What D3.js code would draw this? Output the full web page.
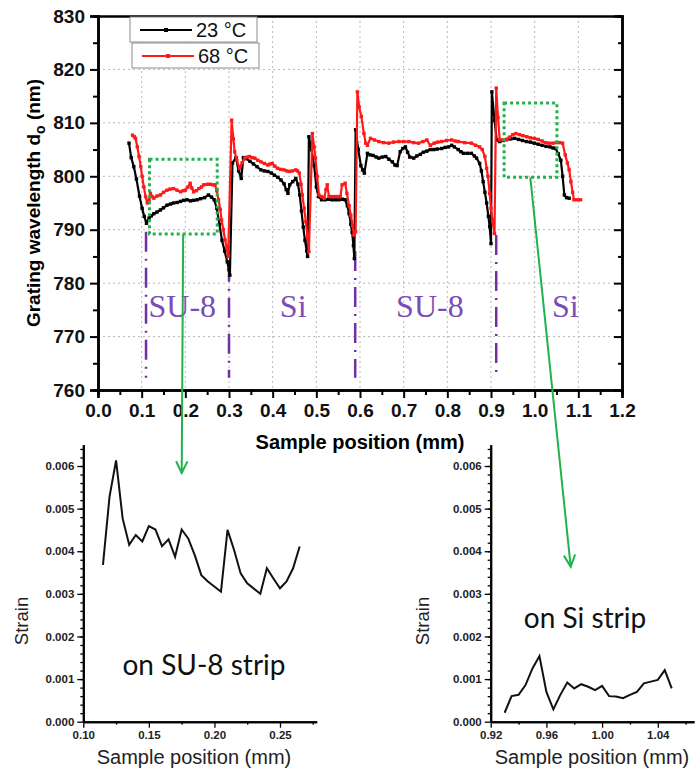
<!DOCTYPE html>
<html>
<head>
<meta charset="utf-8">
<script src="https://cdn.jsdelivr.net/npm/d3@7"></script>
<style>
  body { margin: 0; background: #fff; }
  svg { display: block; font-family: "Liberation Sans", Arial, sans-serif; }
</style>
</head>
<body>
<svg width="695" height="771"></svg>
<script>
// ---- data: main chart (grating wavelength vs position) ----
var x23 = [0.071,0.076,0.082,0.088,0.095,0.101,0.106,0.111,0.117,0.122,0.128,0.135,0.143,0.150,0.158,0.166,0.173,0.181,0.189,0.196,0.204,0.212,0.219,0.227,0.235,0.244,0.253,0.260,0.266,0.272,0.278,0.284,0.290,0.296,0.300,0.302,
  0.308,0.316,0.322,0.328,0.333,0.340,0.348,0.356,0.364,0.373,0.381,0.389,0.397,0.404,0.412,0.419,0.426,0.431,0.435,0.439,0.446,0.453,0.458,0.462,0.466,0.470,0.474,0.478,0.480,
  0.483,0.489,0.495,0.500,0.505,0.512,0.520,0.528,0.536,0.544,0.552,0.560,0.566,0.571,0.575,0.579,0.582,0.585,0.587,
  0.590,0.596,0.602,0.606,0.610,0.617,0.623,0.630,0.637,0.643,0.651,0.659,0.666,0.674,0.680,0.685,0.692,0.698,0.704,0.709,0.714,0.723,0.730,0.738,0.745,0.753,0.761,0.769,0.777,0.787,0.795,0.803,0.810,0.816,0.825,0.831,0.837,0.846,0.855,0.862,0.867,0.874,0.878,0.882,0.886,0.890,0.894,0.897,0.900,
  0.902,0.908,0.913,0.920,0.928,0.936,0.945,0.954,0.963,0.972,0.981,0.990,0.999,1.008,1.017,1.026,1.035,1.042,1.048,1.054,1.060,1.064,1.068,1.073,1.079];
var y23 = [806.2,803.5,801.8,799.5,796.3,794.0,792.5,791.2,792.2,792.6,793.0,793.3,793.7,794.1,794.6,794.8,795.0,795.1,795.3,795.5,795.6,795.4,795.5,795.6,795.8,796.0,796.5,796.1,795.6,794.0,791.0,788.0,786.0,784.0,782.5,781.5,
  802.5,803.5,801.0,799.6,803.5,803.3,802.8,802.3,801.8,801.2,801.0,800.9,800.6,800.2,799.8,799.3,798.6,797.5,796.8,798.4,799.0,799.6,798.5,796.5,793.5,790.5,788.0,786.0,785.0,
  807.4,805.0,802.0,798.0,796.2,795.6,795.6,795.7,795.6,795.6,795.6,795.7,795.6,794.5,793.0,791.0,789.5,787.0,784.6,
  808.7,805.0,802.0,801.2,800.6,804.3,804.0,803.9,803.6,803.4,803.6,803.7,803.2,802.7,802.1,802.0,804.6,805.2,805.5,804.5,803.6,803.4,803.8,804.1,804.5,804.7,805.0,805.0,805.1,805.2,805.4,805.5,805.8,805.5,805.0,804.6,804.3,804.3,804.3,803.8,803.4,802.4,801.0,799.0,797.0,795.0,792.5,790.6,787.4,
  815.8,810.5,806.8,806.5,806.7,806.9,807.0,807.1,806.9,806.7,806.5,806.4,806.2,806.0,805.8,805.6,805.5,805.3,805.2,804.2,803.0,800.0,796.5,796.0,795.9];

var x68 = [0.079,0.083,0.086,0.090,0.094,0.098,0.101,0.105,0.109,0.113,0.117,0.120,0.124,0.128,0.135,0.143,0.150,0.158,0.165,0.173,0.181,0.189,0.195,0.200,0.206,0.211,0.215,0.219,0.225,0.231,0.237,0.242,0.250,0.257,0.263,0.268,0.272,0.276,0.280,0.283,0.287,0.291,0.295,0.298,
  0.306,0.310,0.313,0.318,0.324,0.330,0.336,0.342,0.347,0.353,0.359,0.366,0.373,0.381,0.389,0.394,0.399,0.405,0.411,0.418,0.426,0.432,0.438,0.445,0.453,0.457,0.461,0.465,0.468,0.472,0.476,0.480,0.483,
  0.491,0.495,0.498,0.502,0.506,0.512,0.518,0.522,0.525,0.529,0.535,0.542,0.549,0.555,0.559,0.566,0.570,0.575,0.579,0.583,0.586,0.590,
  0.594,0.598,0.603,0.609,0.613,0.617,0.624,0.633,0.643,0.654,0.666,0.677,0.689,0.700,0.712,0.723,0.734,0.744,0.753,0.761,0.770,0.778,0.787,0.798,0.810,0.818,0.825,0.840,0.855,0.865,0.874,0.880,0.886,0.890,0.893,0.897,0.900,0.904,0.908,
  0.912,0.916,0.920,0.928,0.935,0.942,0.950,0.957,0.965,0.973,0.982,0.990,0.999,1.008,1.017,1.025,1.033,1.042,1.050,1.057,1.064,1.070,1.075,1.079,1.083,1.087,1.090,1.097,1.105];
var y68 = [807.7,807.4,807.1,805.5,803.7,801.8,800.0,798.0,796.2,795.0,795.6,796.8,796.2,795.9,796.3,796.5,797.0,797.4,797.6,797.7,797.4,797.1,797.3,797.4,798.0,798.7,797.8,797.1,797.3,797.7,798.0,798.4,798.5,798.5,798.4,798.4,797.3,795.6,793.8,791.8,790.0,788.1,786.5,785.0,
  810.5,807.0,804.6,803.0,801.5,802.5,803.4,803.6,803.7,803.5,803.4,803.0,802.7,802.4,802.1,802.3,802.4,801.9,801.5,801.3,801.2,801.0,800.9,801.0,801.2,801.0,800.6,798.5,796.5,794.0,791.5,788.5,785.9,
  808.0,805.5,803.4,800.0,796.5,796.2,795.9,797.5,798.4,796.2,796.2,796.2,796.2,796.2,798.4,798.7,796.8,794.5,792.7,790.8,789.0,789.6,
  815.8,813.0,811.2,808.0,806.2,805.8,807.1,806.8,806.5,806.3,806.2,806.4,806.5,806.5,806.5,806.3,806.2,806.5,806.8,805.8,806.2,806.4,806.5,806.7,806.8,806.6,806.5,806.3,806.2,805.8,805.5,805.0,803.7,801.5,800.0,796.8,794.0,791.5,789.3,
  816.5,811.0,806.8,806.8,806.8,807.3,807.8,808.0,807.8,807.6,807.4,807.2,807.1,806.9,806.6,806.3,806.2,806.2,806.3,806.3,806.2,804.0,802.5,801.2,799.0,797.0,795.6,795.6,795.6];

var mainXTicks = [0.0,0.1,0.2,0.3,0.4,0.5,0.6,0.7,0.8,0.9,1.0,1.1,1.2];
var mainYTicks = [760,770,780,790,800,810,820,830];
var legendLabels = ["23 °C", "68 °C"];
var seriesColors = ["#000000", "#ff1a1a"];

// strip boundaries and labels
var boundaries = [0.11, 0.30, 0.589, 0.912];
var boundaryTop = [789.6, 784, 786, 789];
var stripLabels = ["SU-8", "Si", "SU-8", "Si"];
var stripLabelX = [0.193, 0.447, 0.760, 1.070];

// ---- data: strain insets ----
var suX = [0.115,0.120,0.125,0.130,0.135,0.140,0.145,0.150,0.155,0.160,0.165,0.170,0.175,0.180,0.185,0.190,0.195,0.205,0.210,0.215,0.220,0.225,0.235,0.240,0.245,0.250,0.255,0.260,0.265];
var suY = [0.00368,0.00528,0.00613,0.00477,0.00415,0.00438,0.00423,0.00459,0.00451,0.00412,0.00428,0.00387,0.00451,0.0043,0.00391,0.00344,0.00329,0.00305,0.0045,0.00403,0.00348,0.00325,0.003,0.0036,0.00336,0.00313,0.00329,0.0036,0.00411];
var siX = [0.930,0.935,0.940,0.945,0.950,0.955,0.960,0.965,0.970,0.975,0.980,0.985,0.990,0.995,1.000,1.005,1.010,1.015,1.020,1.025,1.030,1.035,1.040,1.045,1.050];
var siY = [0.00021,0.0006,0.00063,0.00086,0.00125,0.00154,0.0007,0.00029,0.00063,0.00092,0.00078,0.00088,0.00082,0.00074,0.00084,0.0006,0.00059,0.00055,0.00063,0.0007,0.0009,0.00094,0.00098,0.00121,0.00078];
var strainTicks = [0.000,0.001,0.002,0.003,0.004,0.005,0.006];
var suXTicks = [0.10,0.15,0.20,0.25];
var siXTicks = [0.92,0.96,1.00,1.04];

var svg = d3.select("svg");
var purple = "#7030a0", green = "#22b14c";

////////// MAIN CHART //////////
var x = d3.scaleLinear().domain([0, 1.2]).range([98, 622]);
var y = d3.scaleLinear().domain([760, 830]).range([390, 16]);

// grid
var grid = svg.append("g").attr("stroke", "#b8b8b8").attr("stroke-dasharray", "2,3").attr("stroke-width", 1);
mainXTicks.slice(1, -1).forEach(function (t) {
  grid.append("line").attr("x1", x(t)).attr("x2", x(t)).attr("y1", y(830)).attr("y2", y(760));
});
mainYTicks.slice(1, -1).forEach(function (t) {
  grid.append("line").attr("x1", x(0)).attr("x2", x(1.2)).attr("y1", y(t)).attr("y2", y(t));
});

// axes
var xAxis = svg.append("g").attr("transform", "translate(0," + y(760) + ")")
  .call(d3.axisBottom(x).tickValues(mainXTicks).tickFormat(d3.format(".1f")).tickSize(8).tickPadding(6));
svg.append("g").attr("transform", "translate(0," + y(760) + ")")
  .call(d3.axisBottom(x).tickValues(d3.range(0.05, 1.2, 0.1)).tickFormat("").tickSize(5));
var yAxis = svg.append("g").attr("transform", "translate(" + x(0) + ",0)")
  .call(d3.axisLeft(y).tickValues(mainYTicks).tickSize(8).tickPadding(5));
svg.append("g").attr("transform", "translate(" + x(0) + ",0)")
  .call(d3.axisLeft(y).tickValues(d3.range(765, 830, 10)).tickFormat("").tickSize(5));
svg.append("g").attr("transform", "translate(" + x(1.2) + ",0)")
  .call(d3.axisLeft(y).tickValues(mainYTicks.slice(1, -1)).tickFormat("").tickSize(8));
svg.append("g").attr("transform", "translate(" + x(1.2) + ",0)")
  .call(d3.axisLeft(y).tickValues(d3.range(765, 830, 10)).tickFormat("").tickSize(4));
svg.append("g").attr("transform", "translate(0," + y(830) + ")")
  .call(d3.axisBottom(x).tickValues([]).tickSizeOuter(0));

svg.selectAll(".domain").attr("stroke", "#000").attr("stroke-width", 2.5);
svg.selectAll(".tick line").attr("stroke", "#000").attr("stroke-width", 2);
xAxis.selectAll("text").attr("font-size", 19).attr("font-weight", "bold").attr("fill", "#111");
yAxis.selectAll("text").attr("font-size", 19).attr("font-weight", "bold").attr("fill", "#111");

svg.append("text").attr("x", x(0.6)).attr("y", 449).attr("text-anchor", "middle")
  .attr("font-size", 20).attr("font-weight", "bold").text("Sample position (mm)");

var yl = svg.append("text").attr("transform", "translate(40,203) rotate(-90)")
  .attr("text-anchor", "middle").attr("font-size", 19).attr("font-weight", "bold");
yl.append("tspan").text("Grating wavelength d");
yl.append("tspan").attr("font-size", 14).attr("dy", 5).text("o");
yl.append("tspan").attr("dy", -5).text(" (nm)");

// strip boundaries
boundaries.forEach(function (b, i) {
  svg.append("line").attr("x1", x(b)).attr("x2", x(b)).attr("y1", y(boundaryTop[i])).attr("y2", y(762.3))
    .attr("stroke", purple).attr("stroke-width", 2.5).attr("stroke-dasharray", "20,7,2,7");
});
stripLabels.forEach(function (s, i) {
  svg.append("text").attr("x", x(stripLabelX[i])).attr("y", 317)
    .attr("text-anchor", "middle").attr("font-family", "Liberation Serif, serif")
    .attr("font-size", 32).attr("fill", "#7a4cb4").text(s);
});

// series
var line = d3.line().x(function (d) { return x(d[0]); }).y(function (d) { return y(d[1]); });
[[x23, y23], [x68, y68]].forEach(function (s, i) {
  var pts = s[0].map(function (v, j) { return [v, s[1][j]]; });
  svg.append("path").datum(pts).attr("d", line).attr("fill", "none")
    .attr("stroke", seriesColors[i]).attr("stroke-width", 2.2).attr("stroke-linejoin", "round");
  svg.append("g").selectAll("rect").data(pts).join("rect")
    .attr("x", function (d) { return x(d[0]) - 1.7; }).attr("y", function (d) { return y(d[1]) - 1.7; })
    .attr("width", 3.4).attr("height", 3.4).attr("fill", seriesColors[i]);
});

// legend
legendLabels.forEach(function (lab, i) {
  var bx = 130 + i * 2, by = 17 + i * 26;
  svg.append("rect").attr("x", bx).attr("y", by).attr("width", 127).attr("height", 25)
    .attr("fill", "#fff").attr("stroke", "#8c8c8c").attr("stroke-width", 1);
  svg.append("line").attr("x1", bx + 10).attr("x2", bx + 62).attr("y1", by + 13).attr("y2", by + 13)
    .attr("stroke", seriesColors[i]).attr("stroke-width", 2.2);
  svg.append("rect").attr("x", bx + 34).attr("y", by + 11).attr("width", 4).attr("height", 4).attr("fill", seriesColors[i]);
  svg.append("text").attr("x", bx + 66).attr("y", by + 20).attr("font-size", 20).attr("fill", "#111").text(lab);
});

// zoom boxes and arrows
svg.append("rect").attr("x", x(0.118)).attr("y", y(803.2)).attr("width", x(0.273) - x(0.118)).attr("height", y(789.2) - y(803.2))
  .attr("fill", "none").attr("stroke", green).attr("stroke-width", 3).attr("stroke-dasharray", "3,3");
svg.append("rect").attr("x", x(0.93)).attr("y", y(813.7)).attr("width", x(1.051) - x(0.93)).attr("height", y(799.8) - y(813.7))
  .attr("fill", "none").attr("stroke", green).attr("stroke-width", 3).attr("stroke-dasharray", "3,3");

function arrow(x1, y1, x2, y2) {
  var a = Math.atan2(y2 - y1, x2 - x1), L = 13, w = 0.45;
  var g = svg.append("g").attr("stroke", green).attr("stroke-width", 2).attr("fill", "none");
  g.append("line").attr("x1", x1).attr("y1", y1).attr("x2", x2).attr("y2", y2);
  g.append("path").attr("d", "M" + (x2 - L * Math.cos(a - w)) + "," + (y2 - L * Math.sin(a - w)) +
    "L" + x2 + "," + y2 + "L" + (x2 - L * Math.cos(a + w)) + "," + (y2 - L * Math.sin(a + w)));
}
arrow(x(0.195), y(789.2), 181.7, 473);
arrow(x(0.99), y(799.8), 570.7, 566.7);

////////// STRAIN INSETS //////////
function inset(o) {
  var sx = d3.scaleLinear().domain(o.domX).range(o.rangeX);
  var sy = d3.scaleLinear().domain([0, 0.0065]).range([721.7, 444.7]);
  var g = svg.append("g");
  var step = o.ticks[1] - o.ticks[0];
  var minor = d3.range(o.ticks[0] + step / 2, o.domX[1], step);
  g.append("g").attr("transform", "translate(0,721.7)")
    .call(d3.axisBottom(sx).tickValues(minor).tickFormat("").tickSize(3).tickSizeOuter(0));
  var ax = g.append("g").attr("transform", "translate(0,721.7)")
    .call(d3.axisBottom(sx).tickValues(o.ticks).tickFormat(d3.format(".2f")).tickSize(6).tickSizeOuter(0));
  g.append("g").attr("transform", "translate(" + o.rangeX[0] + ",0)")
    .call(d3.axisLeft(sy).tickValues(d3.range(0.0002, 0.0065, 0.0002)).tickFormat("").tickSize(3).tickSizeOuter(0));
  var ay = g.append("g").attr("transform", "translate(" + o.rangeX[0] + ",0)")
    .call(d3.axisLeft(sy).tickValues(strainTicks).tickFormat(d3.format(".3f")).tickSize(6).tickSizeOuter(0));
  g.selectAll(".domain").attr("stroke", "#000").attr("stroke-width", 2);
  g.selectAll(".tick line").attr("stroke", "#000").attr("stroke-width", 1.3);
  ax.selectAll("text").attr("font-size", 11.5).attr("font-weight", "bold").attr("fill", "#222");
  ay.selectAll("text").attr("font-size", 11.5).attr("font-weight", "bold").attr("fill", "#222");

  var pts = o.xs.map(function (v, j) { return [v, o.ys[j]]; });
  g.append("path").datum(pts)
    .attr("d", d3.line().x(function (d) { return sx(d[0]); }).y(function (d) { return sy(d[1]); }))
    .attr("fill", "none").attr("stroke", "#111").attr("stroke-width", 2);

  g.append("text").attr("transform", "translate(" + o.strainX + ",621) rotate(-90)")
    .attr("text-anchor", "middle").attr("font-size", 18.5).attr("fill", "#222").text("Strain");
  g.append("text").attr("x", o.titleX).attr("y", 764).attr("text-anchor", "middle")
    .attr("font-size", 20).attr("fill", "#222").text("Sample position (mm)");
  g.append("text").attr("x", o.labelX).attr("y", o.labelY).attr("text-anchor", "middle")
    .attr("font-family", "Lato, 'Open Sans', sans-serif").attr("font-size", 28).attr("fill", "#111").text(o.label);
}
inset({ xs: suX, ys: suY, domX: [0.10, 0.278], rangeX: [83.3, 316.7], ticks: suXTicks,
  label: "on SU-8 strip", labelX: 204, labelY: 675, strainX: 28, titleX: 194 });
inset({ xs: siX, ys: siY, domX: [0.92, 1.066], rangeX: [490.7, 694], ticks: siXTicks,
  label: "on Si strip", labelX: 585, labelY: 628, strainX: 429, titleX: 592 });
</script>
</body>
</html>
